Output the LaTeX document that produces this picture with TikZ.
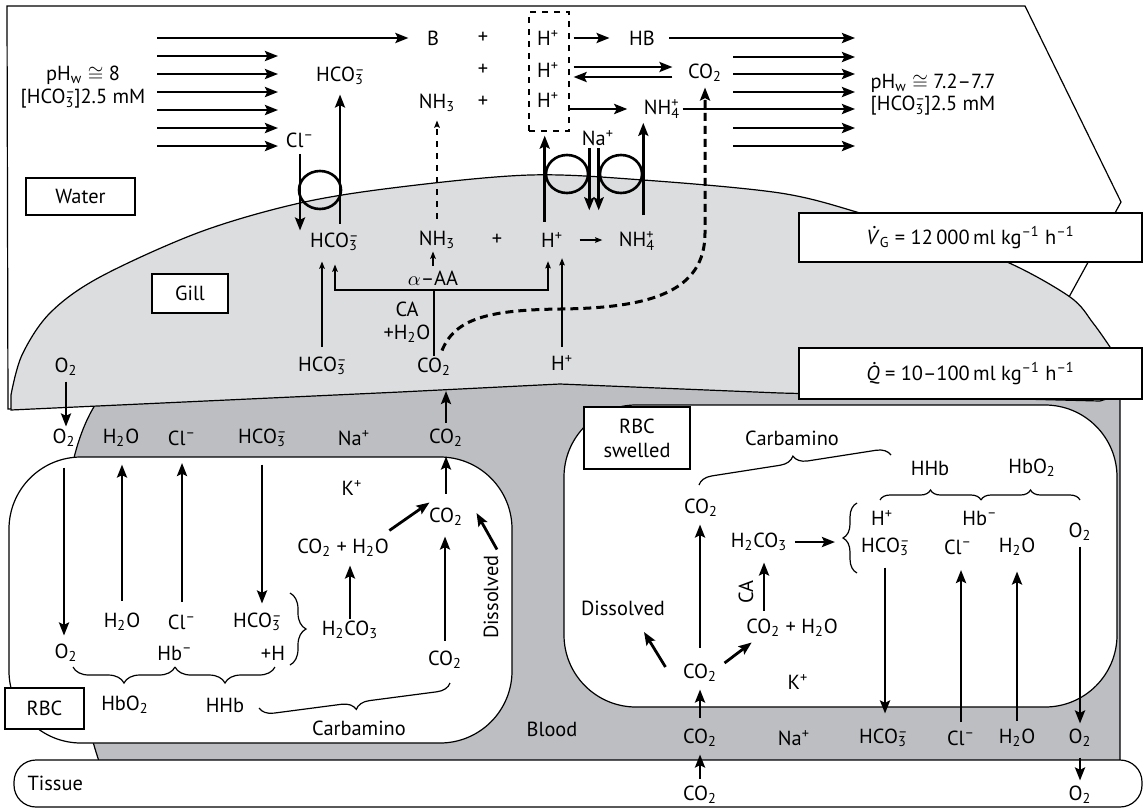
\documentclass[tikz,border=0pt]{standalone}
\usepackage{fontspec}
\setmainfont{PT Sans}
\usetikzlibrary{arrows.meta,calc,shapes.geometric,decorations.pathreplacing}
\definecolor{gillgray}{HTML}{DCDDDF}
\definecolor{bloodgray}{HTML}{BCBEC1}

% chemical species
\newcommand{\sbsp}[2]{\rlap{\textsuperscript{#2}}\textsubscript{#1}}
\newcommand{\HCOt}{HCO\sbsp{3}{\textendash}}
\newcommand{\COt}{CO\textsubscript{2}}
\newcommand{\Ot}{O\textsubscript{2}}
\newcommand{\HtO}{H\textsubscript{2}O}
\newcommand{\NHt}{NH\textsubscript{3}}
\newcommand{\NHf}{NH\sbsp{4}{+}}
\newcommand{\Hp}{H\textsuperscript{+}}
\newcommand{\Clm}{Cl\textsuperscript{\textendash}}
\newcommand{\HtCOt}{H\textsubscript{2}CO\textsubscript{3}}
\newcommand{\rated}[1]{\ooalign{\textit{#1}\cr\hfil\kern0.15em\raisebox{0.78em}{.}\hfil\cr}}

\begin{document}
\begin{tikzpicture}[x=0.5pt, y=-0.5pt, line width=0.6pt,
  every node/.style={font=\fontsize{10.2}{12}\selectfont, inner sep=1pt},
  flow/.style={line width=1.4pt, -{Stealth[length=6.5pt, width=5pt, inset=1.2pt]}},
  thinflow/.style={line width=0.6pt, -{Stealth[length=3.6pt, width=2.8pt, inset=0.6pt]}},
  region/.style={draw, line width=0.6pt},
  labelbox/.style={draw, line width=0.7pt, fill=white, inner sep=0pt},
  pump/.style={draw, ellipse, line width=1.3pt, minimum width=21pt, minimum height=19pt, inner sep=0pt},
  curly/.style={decorate, decoration={brace, amplitude=#1}, line width=0.6pt},
  curly/.default=8pt]

\useasboundingbox (0,0) rectangle (1143,809);

% water, blood and gill
\draw[region, fill=white] (7,6) -- (1025,6) -- (1121,202) -- (1069,297) -- (1069,380)
  -- (560,378) -- (8,409) -- cycle;
\draw[region, fill=bloodgray] (95,375) -- (1105,375) -- (1120,398) -- (1120,770) -- (102,770)
  .. controls (70,680) and (40,495) .. (95,405) -- cycle;
\draw[region, fill=gillgray] (11,410) -- (400,392) -- (560,384) -- (780,393) -- (1100,401)
  -- (1113,397) -- (1113,360) -- plot[smooth, tension=0.55] coordinates {(1110,347) (1093,323)
  (1070,297) (1007,262) (930,236) (860,213) (780,193) (643,180) (530,175) (400,187) (300,203)
  (200,232) (100,277) (50,313) (22,355) (11,395)} -- cycle;

% red cells and tissue
\draw[region, fill=white, rounded corners=36pt] (9,457) rectangle (512,743);
\draw[region, fill=white, rounded corners=36pt] (564,405) rectangle (1117,707);
\draw[region, fill=white, rounded corners=11pt] (14,760) rectangle (1142,807);

% boxed labels
\node[labelbox, minimum width=54.5pt, minimum height=18.5pt] (waterbox) at (80.5,196.5) {Water};
\node[labelbox, minimum width=38pt, minimum height=19.5pt] (gillbox) at (190,293.5) {Gill};
\node[labelbox, minimum width=39.5pt, minimum height=20.5pt] (rbcbox) at (44.5,708.5) {RBC};
\node[labelbox, minimum width=53pt, minimum height=31pt, align=center] (rbcsbox) at (637,438) {RBC\\swelled};
\node[labelbox, minimum width=171.5pt, minimum height=24.5pt] (vgbox) at (970.5,237.5)
  {\rated{V}\textsubscript{G} = 12\,000\,ml kg\textsuperscript{\textendash1} h\textsuperscript{\textendash1}};
\node[labelbox, minimum width=171.5pt, minimum height=25.5pt] (qbox) at (970.5,373.5)
  {\rated{Q} = 10\textendash100\,ml kg\textsuperscript{\textendash1} h\textsuperscript{\textendash1}};

% water side
\node (phleft) at (83,75) {pH\textsubscript{w} $\cong$ 8};
\node (concleft) at (83,99) {[\HCOt]2.5 mM};
\node[anchor=west] (phright) at (868,83) {pH\textsubscript{w} $\cong$ 7.2\textendash7.7};
\node[anchor=west] (concright) at (868,106) {[\HCOt]2.5 mM};
\node (b) at (433,38) {B};
\node (hb) at (642,38) {HB};
\node (cow) at (705,73) {\COt};
\node (nhw) at (437,103) {\NHt};
\node (nhfw) at (662,109) {\NHf};
\node (hcow) at (340,76) {\HCOt};
\node (clw) at (300,140) {\Clm};
\node (naw) at (598,138) {Na\textsuperscript{+}};
\foreach \n/\y in {1/38, 2/70, 3/102} \node (pl\n) at (483,\y) {+};
\foreach \n/\y in {1/38, 2/70, 3/100} \node (hw\n) at (548,\y) {\Hp};
\node[draw, dashed, minimum width=20pt, minimum height=59.5pt, inner sep=0pt] (hbox) at (549,71.5) {};
\coordinate (flowend) at (855,0);

% water flow
\draw[flow, shorten >=8pt] (157,38) -- (b.west);
\foreach \y in {56,74,92,110,128,146} \draw[flow] (157,\y) -- (278,\y);
\draw[flow, shorten <=6pt] (hb.east) -- (hb.east -| flowend);
\draw[flow] (nhfw.east) -- (nhfw.east -| flowend);
\foreach \y in {57,74,92,128,146} \draw[flow] (733,\y) -- (855,\y);

% reactions in the water
\draw[flow, shorten <=2pt, shorten >=8.5pt] (hbox.east |- hb.west) -- (hb.west);
\draw[flow, shorten <=2pt, shorten >=6.5pt] ($(hbox.east |- cow.west)+(0,-6)$) -- ($(cow.west)+(0,-6)$);
\draw[flow, shorten <=6.5pt, shorten >=2pt] ($(cow.west)+(0,4)$) -- ($(hbox.east |- cow.west)+(0,4)$);
\draw[flow, shorten >=7pt] (hbox.east |- nhfw.west) -- (nhfw.west);

% gill epithelium
\node (hcog) at (334,242) {\HCOt};
\node (nhg) at (437,240) {\NHt};
\node (plg) at (497,240) {+};
\node (hg) at (552,240) {\Hp};
\node (nhfg) at (637,241) {\NHf};
\node (aa) at (433,278) {$\alpha$\textendash AA};
\node (ca) at (407,309) {CA};
\node (wat) at (407,334) {+\HtO};
\node (hcogl) at (322,366) {\HCOt};
\node (cog) at (434,367) {\COt};
\node (hgl) at (562,363) {\Hp};
\node (o2g) at (66,367) {\Ot};
\coordinate (brl) at (335,290);
\coordinate (brr) at (548,290);
\coordinate (gillin) at (445,391);

% exchangers in the apical membrane
\node[pump] (pumpcl) at (320,190) {};
\node[pump] (pumph) at (567,174) {};
\node[pump] (pumpna) at (621,174) {};
\draw[flow, shorten <=2pt] (clw.south) -- (clw.south |- hcog.north);
\draw[flow, shorten <=3.5pt, shorten >=3.5pt] (hcow.south |- hcog.north) -- (hcow.south);
\foreach \p/\a in {pumph/east, pumpna/west} \draw[flow] (\p.\a |- naw.south) -- ++(0,62);
\draw[flow, shorten <=4pt, shorten >=2pt] (hg.north -| pumph.west) -- (hbox.south -| pumph.west);
\draw[flow, shorten <=7pt, shorten >=1pt] (nhfg.north -| pumpna.east) -- (nhfw.south -| pumpna.east);
\draw[thinflow, dashed, line width=0.7pt, shorten <=5pt, shorten >=3pt] (nhg.north) -- (nhw.south);
\draw[line width=1.5pt, dash pattern=on 4pt off 2.5pt, -{Stealth[length=6.5pt, width=5pt, inset=1.2pt]},
  shorten >=1.5pt] ($(cog.north)+(8,-5)$) .. controls (455,318) and (490,310) .. (560,309)
  .. controls (650,308) and (705,292) .. (705,233) -- (cow.south);

% reactions in the gill
\draw[thinflow, shorten <=7pt, shorten >=7pt] (hg.east) -- (hg.east -| nhfg.west);
\draw[thinflow, shorten <=1pt] (aa.north) -- (aa.north |- nhg.south);
\draw[thinflow, shorten >=5.5pt] (cog.north) -- (cog.north |- brl) -| (hcog.south -| brl);
\draw[thinflow, shorten >=5.5pt] (cog.north |- brl) -| (hg.south -| brr);
\draw[thinflow, shorten <=4pt, shorten >=4pt] (hcogl.north) -- (hcogl.north |- hcog.south);
\draw[thinflow, shorten <=3pt, shorten >=4pt] (hgl.north) -- (hgl.north |- hg.south);

% blood plasma, left
\node (o2b) at (64,438) {\Ot};
\node (h2ob) at (121,438) {\HtO};
\node (clb) at (182,438) {\Clm};
\node (hcob) at (262,438) {\HCOt};
\node (nab) at (354,438) {Na\textsuperscript{+}};
\node (cob) at (446,438) {\COt};
\node (blood) at (552,729) {Blood};
\draw[flow, shorten <=1.5pt] (o2g.south) -- (o2g.south |- o2b.north);
\draw[flow, shorten <=2pt] (cob.north) -- (cob.north |- gillin);

% red cell at the gill
\node (kr) at (352,488) {K\textsuperscript{+}};
\node (cor1) at (446,517) {\COt};
\node (corh) at (343,548) {\COt{} + \HtO};
\node[rotate=90] (dis1) at (491,597) {Dissolved};
\node (h2cor) at (350,630) {\HtCOt};
\node (cor2) at (445,660) {\COt};
\node (h2or) at (122,622) {\HtO};
\node (clr) at (182,622) {\Clm};
\node (hcor) at (257,622) {\HCOt};
\node (o2r) at (66,653) {\Ot};
\node (hbr) at (175,653) {Hb\textsuperscript{\textendash}};
\node (hplus) at (273,653) {+H};
\node (hbo2r) at (125,705) {HbO\textsubscript{2}};
\node (hhbr) at (225,705) {HHb};
\node (carb1) at (359,728) {Carbamino};
\draw[flow, shorten <=9pt, shorten >=3pt] (o2b.south) -- (o2b.south |- o2r.north);
\foreach \a/\b in {h2or/h2ob, clr/clb}
  \draw[flow, shorten <=5pt, shorten >=7.5pt] (\a.north) -- (\a.north |- \b.south);
\draw[flow, shorten <=7.5pt, shorten >=3.5pt] (hcob.south) -- (hcob.south |- hcor.north);
\draw[flow, shorten <=6pt, shorten >=3.5pt] (cor1.north) -- (cor1.north |- cob.south);
\draw[flow] ($(corh.north east)+(-2,-6)$) -- ($(cor1.north west)+(3,-3)$);
\draw[flow] ($(dis1.east)+(6,-3)$) -- ($(cor1.east)+(11,-4)$);
\draw[flow, shorten >=3pt] (h2cor.north) -- (h2cor.north |- corh.south);
\draw[flow, shorten <=4pt, shorten >=4pt] (cor2.north) -- (cor2.north |- cor1.south);
\draw[curly] (175,667) -- (73,667);
\draw[curly] (275,667) -- (175,667);
\draw[curly] (290,593) -- (290,665);
\draw[curly=7pt] (450,683) -- (259,708);

% red cell at the tissue
\node (carb2) at (792,438) {Carbamino};
\node (cos1) at (701,508) {\COt};
\node (h2cos) at (759,542) {\HtCOt};
\node (hs) at (882,518) {\Hp};
\node (hbs) at (980,518) {Hb\textsuperscript{\textendash}};
\node (o2s) at (1080,532) {\Ot};
\node (hcos) at (885,547) {\HCOt};
\node (cls) at (958,547) {\Clm};
\node (h2os) at (1017,547) {\HtO};
\node (hhbs) at (930,468) {HHb};
\node (hbo2s) at (1032,468) {HbO\textsubscript{2}};
\node (dis2) at (623,608) {Dissolved};
\node (cos2) at (700,673) {\COt};
\node (corhs) at (792,628) {\COt{} + \HtO};
\node[rotate=90] (cas) at (746,592) {CA};
\node (ks) at (798,682) {K\textsuperscript{+}};
\coordinate (bst) at (857,503);
\coordinate (bsb) at (857,573);
\coordinate (cax) at (764,0);
\draw[curly=7pt] (699,485) -- (891,455);
\draw[curly=5pt] (880,500) -- (981,500);
\draw[curly=5pt] (981,500) -- (1080,500);
\draw[curly=7pt] (bsb) -- (bst);
\draw[flow, shorten <=7pt, shorten >=2.5pt] (cos2.north) -- (cos2.north |- cos1.south);
\draw[flow, shorten <=2.5pt, shorten >=11pt] (h2cos.east) -- (h2cos.east -| bst);
\draw[flow] ($(cos2.west)+(-15,-6)$) -- ($(dis2.south)+(21,14)$);
\draw[flow] ($(cos2.east)+(5,-10)$) -- ($(corhs.south west)+(8,3)$);
\draw[flow, shorten <=3pt, shorten >=4.5pt] (corhs.north -| cax) -- (h2cos.south -| cax);

% blood plasma, right
\node (cobs) at (700,738) {\COt};
\node (nabs) at (794,738) {Na\textsuperscript{+}};
\node (hcobs) at (883,738) {\HCOt};
\node (clbs) at (961,738) {\Clm};
\node (h2obs) at (1017,738) {\HtO};
\node (o2bs) at (1080,738) {\Ot};
\draw[flow, shorten <=4.5pt, shorten >=2.5pt] (cobs.north) -- (cobs.north |- cos2.south);
\draw[flow, shorten <=4.5pt, shorten >=6.5pt] (hcos.south) -- (hcos.south |- hcobs.north);
\foreach \a/\b in {clbs/cls, h2obs/h2os}
  \draw[flow, shorten <=3pt, shorten >=6.5pt] (\a.north) -- (\a.north |- \b.south);
\draw[flow, shorten <=1.5pt, shorten >=1.5pt] (o2s.south) -- (o2s.south |- o2bs.north);

% tissue
\node[anchor=west] (tissue) at (25,783) {Tissue};
\node (cot) at (700,795) {\COt};
\node (o2t) at (1080,795) {\Ot};
\draw[flow, shorten <=2.5pt, shorten >=2.5pt] (cot.north) -- (cot.north |- cobs.south);
\draw[flow, shorten <=4pt, shorten >=1.5pt] (o2bs.south) -- (o2bs.south |- o2t.north);

\end{tikzpicture}
\end{document}
